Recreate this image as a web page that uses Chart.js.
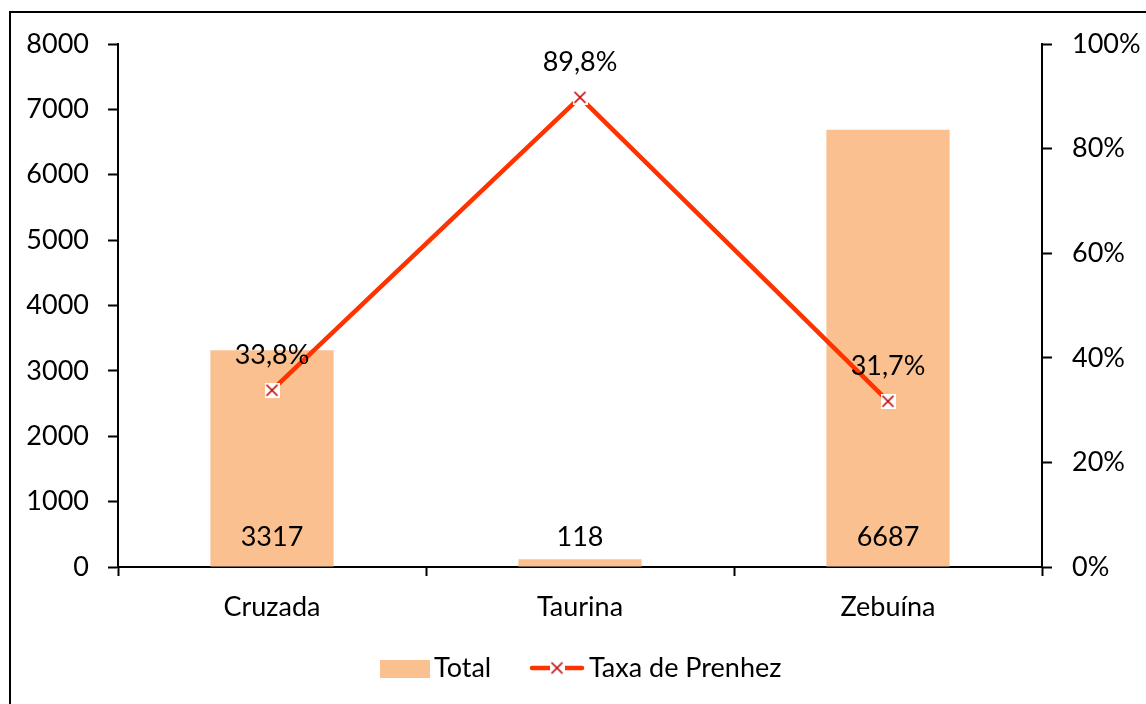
<!DOCTYPE html>
<html>
<head>
<meta charset="utf-8">
<script src="https://cdn.jsdelivr.net/npm/chart.js@4"></script>
<style>
  html, body { margin: 0; padding: 0; background: #fff; }
  #wrap { width: 1146px; height: 704px; position: relative; }
</style>
</head>
<body>
<div id="wrap"><canvas id="grafico"></canvas></div>
<script>
// dados
const categorias = ['Cruzada', 'Taurina', 'Zebuína'];
const totais = [3317, 118, 6687];
const taxaPrenhez = [33.8, 89.8, 31.7];
const eixoEsq = { min: 0, max: 8000, passo: 1000 };
const eixoDir = { min: 0, max: 100, passo: 20 };

const corBarra = '#FAC090';
const corLinha = '#FF3300';
const corMarca = '#C00000';
const fonte = { family: 'Lato', size: 27 };

// marcador "x" com fundo branco, igual ao do Excel
function criaMarcador() {
    const c = document.createElement('canvas');
    c.width = 15; c.height = 15;
    const g = c.getContext('2d');
    g.fillStyle = '#fff';
    g.fillRect(0, 0, 15, 15);
    g.strokeStyle = corMarca;
    g.lineWidth = 1.6;
    g.beginPath();
    g.moveTo(2, 2); g.lineTo(13, 13);
    g.moveTo(13, 2); g.lineTo(2, 13);
    g.stroke();
    return c;
}
const marcador = criaMarcador();

const fmt = v => v.toFixed(1).replace('.', ',') + '%';

const extras = {
    id: 'extras',
    beforeDraw(chart) {
        const ctx = chart.ctx;
        ctx.save();
        ctx.strokeStyle = '#000';
        ctx.lineWidth = 2;
        ctx.strokeRect(10, 12, 1200, 800);
        ctx.restore();
    },
    afterDatasetsDraw(chart) {
        const ctx = chart.ctx;
        ctx.save();
        ctx.font = fonte.size + 'px ' + fonte.family;
        ctx.fillStyle = '#000';
        ctx.textAlign = 'center';
        ctx.textBaseline = 'middle';
        const y = chart.scales.y;
        chart.getDatasetMeta(0).data.forEach((b, i) => {
            ctx.fillText(String(totais[i]), b.x, y.getPixelForValue(0) - 30);
        });
        chart.getDatasetMeta(1).data.forEach((p, i) => {
            ctx.fillText(fmt(taxaPrenhez[i]), p.x, p.y - 35);
        });

        // legenda
        const ly = 668;
        ctx.fillStyle = corBarra;
        ctx.fillRect(380, 660, 50, 18);
        ctx.fillStyle = '#000';
        ctx.textAlign = 'left';
        ctx.fillText('Total', 434, ly);
        ctx.strokeStyle = corLinha;
        ctx.lineWidth = 4.5;
        ctx.lineCap = 'round';
        ctx.beginPath();
        ctx.moveTo(532, ly); ctx.lineTo(582, ly);
        ctx.stroke();
        ctx.drawImage(marcador, 557 - 7.5, ly - 7.5);
        ctx.fillText('Taxa de Prenhez', 589, ly);
        ctx.restore();
    }
};

const ctx = document.getElementById('grafico').getContext('2d');
const grafico = new Chart(ctx, {
    type: 'bar',
    data: {
        labels: categorias,
        datasets: [{
            type: 'bar',
            label: 'Total',
            data: totais,
            backgroundColor: corBarra,
            yAxisID: 'y',
            order: 2,
            barPercentage: 0.4,
            categoryPercentage: 1
        }, {
            type: 'line',
            label: 'Taxa de Prenhez',
            data: taxaPrenhez,
            borderColor: corLinha,
            borderWidth: 4.5,
            pointStyle: marcador,
            yAxisID: 'y1',
            order: 1,
            tension: 0
        }]
    },
    options: {
        responsive: true,
        maintainAspectRatio: false,
        animation: false,
        layout: { padding: { top: 44, left: 0, right: 0, bottom: 0 } },
        plugins: {
            legend: { display: false },
            tooltip: { enabled: false }
        },
        scales: {
            x: {
                grid: { drawOnChartArea: false, drawTicks: true, tickLength: 9, tickWidth: 2, tickColor: '#000', offset: true },
                border: { color: '#000', width: 2 },
                ticks: { color: '#000', font: fonte, padding: 15 },
                afterFit(s) { s.height = 137; }
            },
            y: {
                position: 'left',
                min: eixoEsq.min, max: eixoEsq.max,
                grid: { drawOnChartArea: false, tickLength: 10, tickWidth: 2, tickColor: '#000' },
                border: { color: '#000', width: 2 },
                ticks: { stepSize: eixoEsq.passo, color: '#000', font: fonte, padding: 19, callback: v => String(v) },
                afterFit(s) { s.width = 118; }
            },
            y1: {
                position: 'right',
                min: eixoDir.min, max: eixoDir.max,
                grid: { drawOnChartArea: false, tickLength: 10, tickWidth: 2, tickColor: '#000' },
                border: { color: '#000', width: 2 },
                ticks: { stepSize: eixoDir.passo, color: '#000', font: fonte, padding: 20, callback: v => v + '%' },
                afterFit(s) { s.width = 104; }
            }
        }
    },
    plugins: [extras]
});
</script>
</body>
</html>
